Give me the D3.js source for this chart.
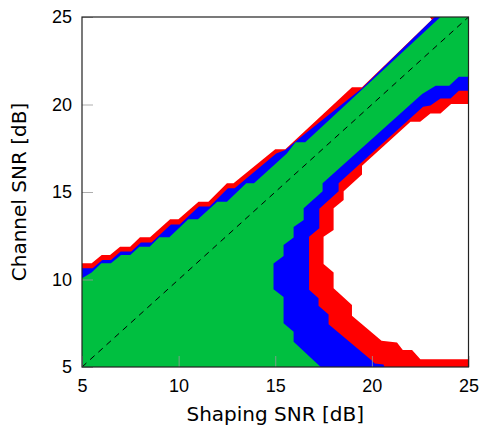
<!DOCTYPE html>
<html>
<head>
<meta charset="utf-8">
<script src="https://cdn.jsdelivr.net/npm/d3@7"></script>
<style>
  html, body { margin: 0; padding: 0; background: #fff; }
  svg { display: block; font-family: "DejaVu Sans", sans-serif; }
</style>
</head>
<body>
<svg id="chart"></svg>
<script>
// Axis ticks
const xTicks = [5, 10, 15, 20, 25];
const yTicks = [5, 10, 15, 20, 25];

// Upper-left edges of each region, [shaping SNR, channel SNR]
const redOuter = [[5, 10.93], [5.5, 10.93], [6.02, 11.4], [6.45, 11.4], [6.97, 11.87], [7.49, 11.87],
  [8.0, 12.41], [8.52, 12.41], [9.56, 13.44], [9.99, 13.44], [11.03, 14.45], [11.54, 14.45],
  [12.5, 15.5], [12.84, 15.5], [15.0, 17.44], [15.52, 17.44], [18.97, 20.98], [19.49, 20.98],
  [23.1, 24.84], [23.0, 25]];
const blueOuter = [[5, 10.65], [5.55, 10.65], [6.05, 11.12], [6.5, 11.12], [7.0, 11.6], [7.55, 11.6],
  [8.05, 12.12], [8.6, 12.12], [9.6, 13.15], [10.05, 13.15], [11.05, 14.17], [11.6, 14.17],
  [12.55, 15.22], [12.9, 15.22], [15.05, 17.2], [15.52, 17.4], [16.3, 18.12], [19.49, 20.93], [23.25, 25]];
const greenOuter = [[5, 10.07], [5.5, 10.4], [6.0, 10.93], [6.5, 10.93], [7.02, 11.4], [7.5, 11.4],
  [7.97, 11.87], [8.5, 11.87], [9.0, 12.41], [9.52, 12.41], [10.5, 13.44], [11.0, 13.44],
  [12.0, 14.45], [12.5, 14.45], [13.5, 15.5], [13.9, 15.5], [15.6, 17.2], [16.05, 17.85],
  [16.55, 17.85], [23.55, 25]];

// Lower-right edges of each region
const greenInner = [[25, 21.58], [24.5, 21.58], [24.0, 21.07], [23.3, 21.07], [22.6, 20.6],
  [17.45, 15.5], [17.45, 15.05], [16.47, 14.07], [16.47, 13.4], [15.95, 13.0], [15.95, 12.4],
  [15.43, 11.97], [15.43, 11.35], [14.91, 10.92], [14.91, 9.45], [15.43, 9.0], [15.43, 7.5],
  [15.95, 7.02], [15.95, 6.45], [17.35, 5.0]];
const blueInner = [[25, 20.79], [24.5, 20.79], [24.07, 20.35], [23.55, 20.35], [23.03, 19.95],
  [22.65, 19.87], [18.28, 15.5], [18.28, 15.05], [17.28, 14.05], [17.28, 12.93], [16.75, 12.45],
  [16.75, 9.42], [17.24, 8.93], [17.24, 8.5], [17.76, 8.0], [17.76, 7.45], [19.92, 5.45],
  [20.15, 5.2], [20.6, 5.15], [20.65, 5.0]];
const redInner = [[25, 20.03], [24.1, 20.03], [23.55, 19.48], [23.03, 19.48], [22.5, 19.02],
  [22.0, 19.02], [19.49, 16.5], [19.49, 16.0], [18.54, 15.05], [18.54, 14.54], [18.02, 14.07],
  [18.02, 12.83], [17.5, 12.45], [17.5, 10.88], [18.02, 10.4], [18.02, 9.5], [18.97, 8.54],
  [18.97, 7.93], [20.5, 6.5], [21.3, 6.4], [21.6, 5.97], [22.08, 5.97], [22.51, 5.45], [25, 5.45]];

const regions = [
  { name: "red", outer: redOuter, inner: redInner },
  { name: "blue", outer: blueOuter, inner: blueInner },
  { name: "green", outer: greenOuter, inner: greenInner }
];
const colors = { red: "#ff0000", blue: "#0000ff", green: "#00bf40" };

const width = 481, height = 430;
const margin = { top: 17, right: 12.5, bottom: 63, left: 82 };

const svg = d3.select("#chart").attr("width", width).attr("height", height);

const x = d3.scaleLinear().domain([5, 25]).range([margin.left, width - margin.right]);
const y = d3.scaleLinear().domain([5, 25]).range([height - margin.bottom, margin.top]);

svg.append("clipPath").attr("id", "plot-clip")
  .append("rect")
  .attr("x", x(5)).attr("y", y(25))
  .attr("width", x(25) - x(5)).attr("height", y(5) - y(25));

const plot = svg.append("g").attr("clip-path", "url(#plot-clip)");

const line = d3.line().x(d => x(d[0])).y(d => y(d[1]));

// Each region: upper edge, top-right corner, lower edge, down to the bottom
plot.selectAll(".region")
  .data(regions)
  .enter()
  .append("path")
  .attr("class", "region")
  .attr("d", r => {
    const last = r.inner[r.inner.length - 1];
    const pts = r.outer.concat([[25, 25]], r.inner, [[last[0], 5], [5, 5]]);
    return line(pts) + "Z";
  })
  .attr("fill", r => colors[r.name]);

// Diagonal reference
plot.append("path")
  .attr("d", line([[5, 5], [25, 25]]))
  .attr("fill", "none")
  .attr("stroke", "#000")
  .attr("stroke-width", 1)
  .attr("stroke-dasharray", "6,5");

// Axes with inward ticks
const xAxis = d3.axisBottom(x).tickValues(xTicks).tickSizeInner(-11).tickSizeOuter(0).tickPadding(12);
const yAxis = d3.axisLeft(y).tickValues(yTicks).tickSizeInner(-11).tickSizeOuter(0).tickPadding(10);

const gx = svg.append("g").attr("transform", `translate(0,${y(5)})`).call(xAxis);
const gy = svg.append("g").attr("transform", `translate(${x(5)},0)`).call(yAxis);

[gx, gy].forEach(g => {
  g.select(".domain").remove();
  g.selectAll(".tick line").attr("stroke", "#999").attr("stroke-width", 0.8);
  g.selectAll(".tick text").attr("fill", "#000").style("font-size", "18px").style("font-family", null);
});

// Frame
svg.append("rect")
  .attr("x", x(5)).attr("y", y(25))
  .attr("width", x(25) - x(5)).attr("height", y(5) - y(25))
  .attr("fill", "none")
  .attr("stroke", "#222")
  .attr("stroke-width", 1.2);

// Axis titles
svg.append("text")
  .attr("x", (x(5) + x(25)) / 2)
  .attr("y", 421)
  .attr("text-anchor", "middle")
  .style("font-size", "20px")
  .text("Shaping SNR [dB]");

svg.append("text")
  .attr("transform", `translate(26,${(y(5) + y(25)) / 2}) rotate(-90)`)
  .attr("text-anchor", "middle")
  .style("font-size", "20px")
  .text("Channel SNR [dB]");
</script>
</body>
</html>
